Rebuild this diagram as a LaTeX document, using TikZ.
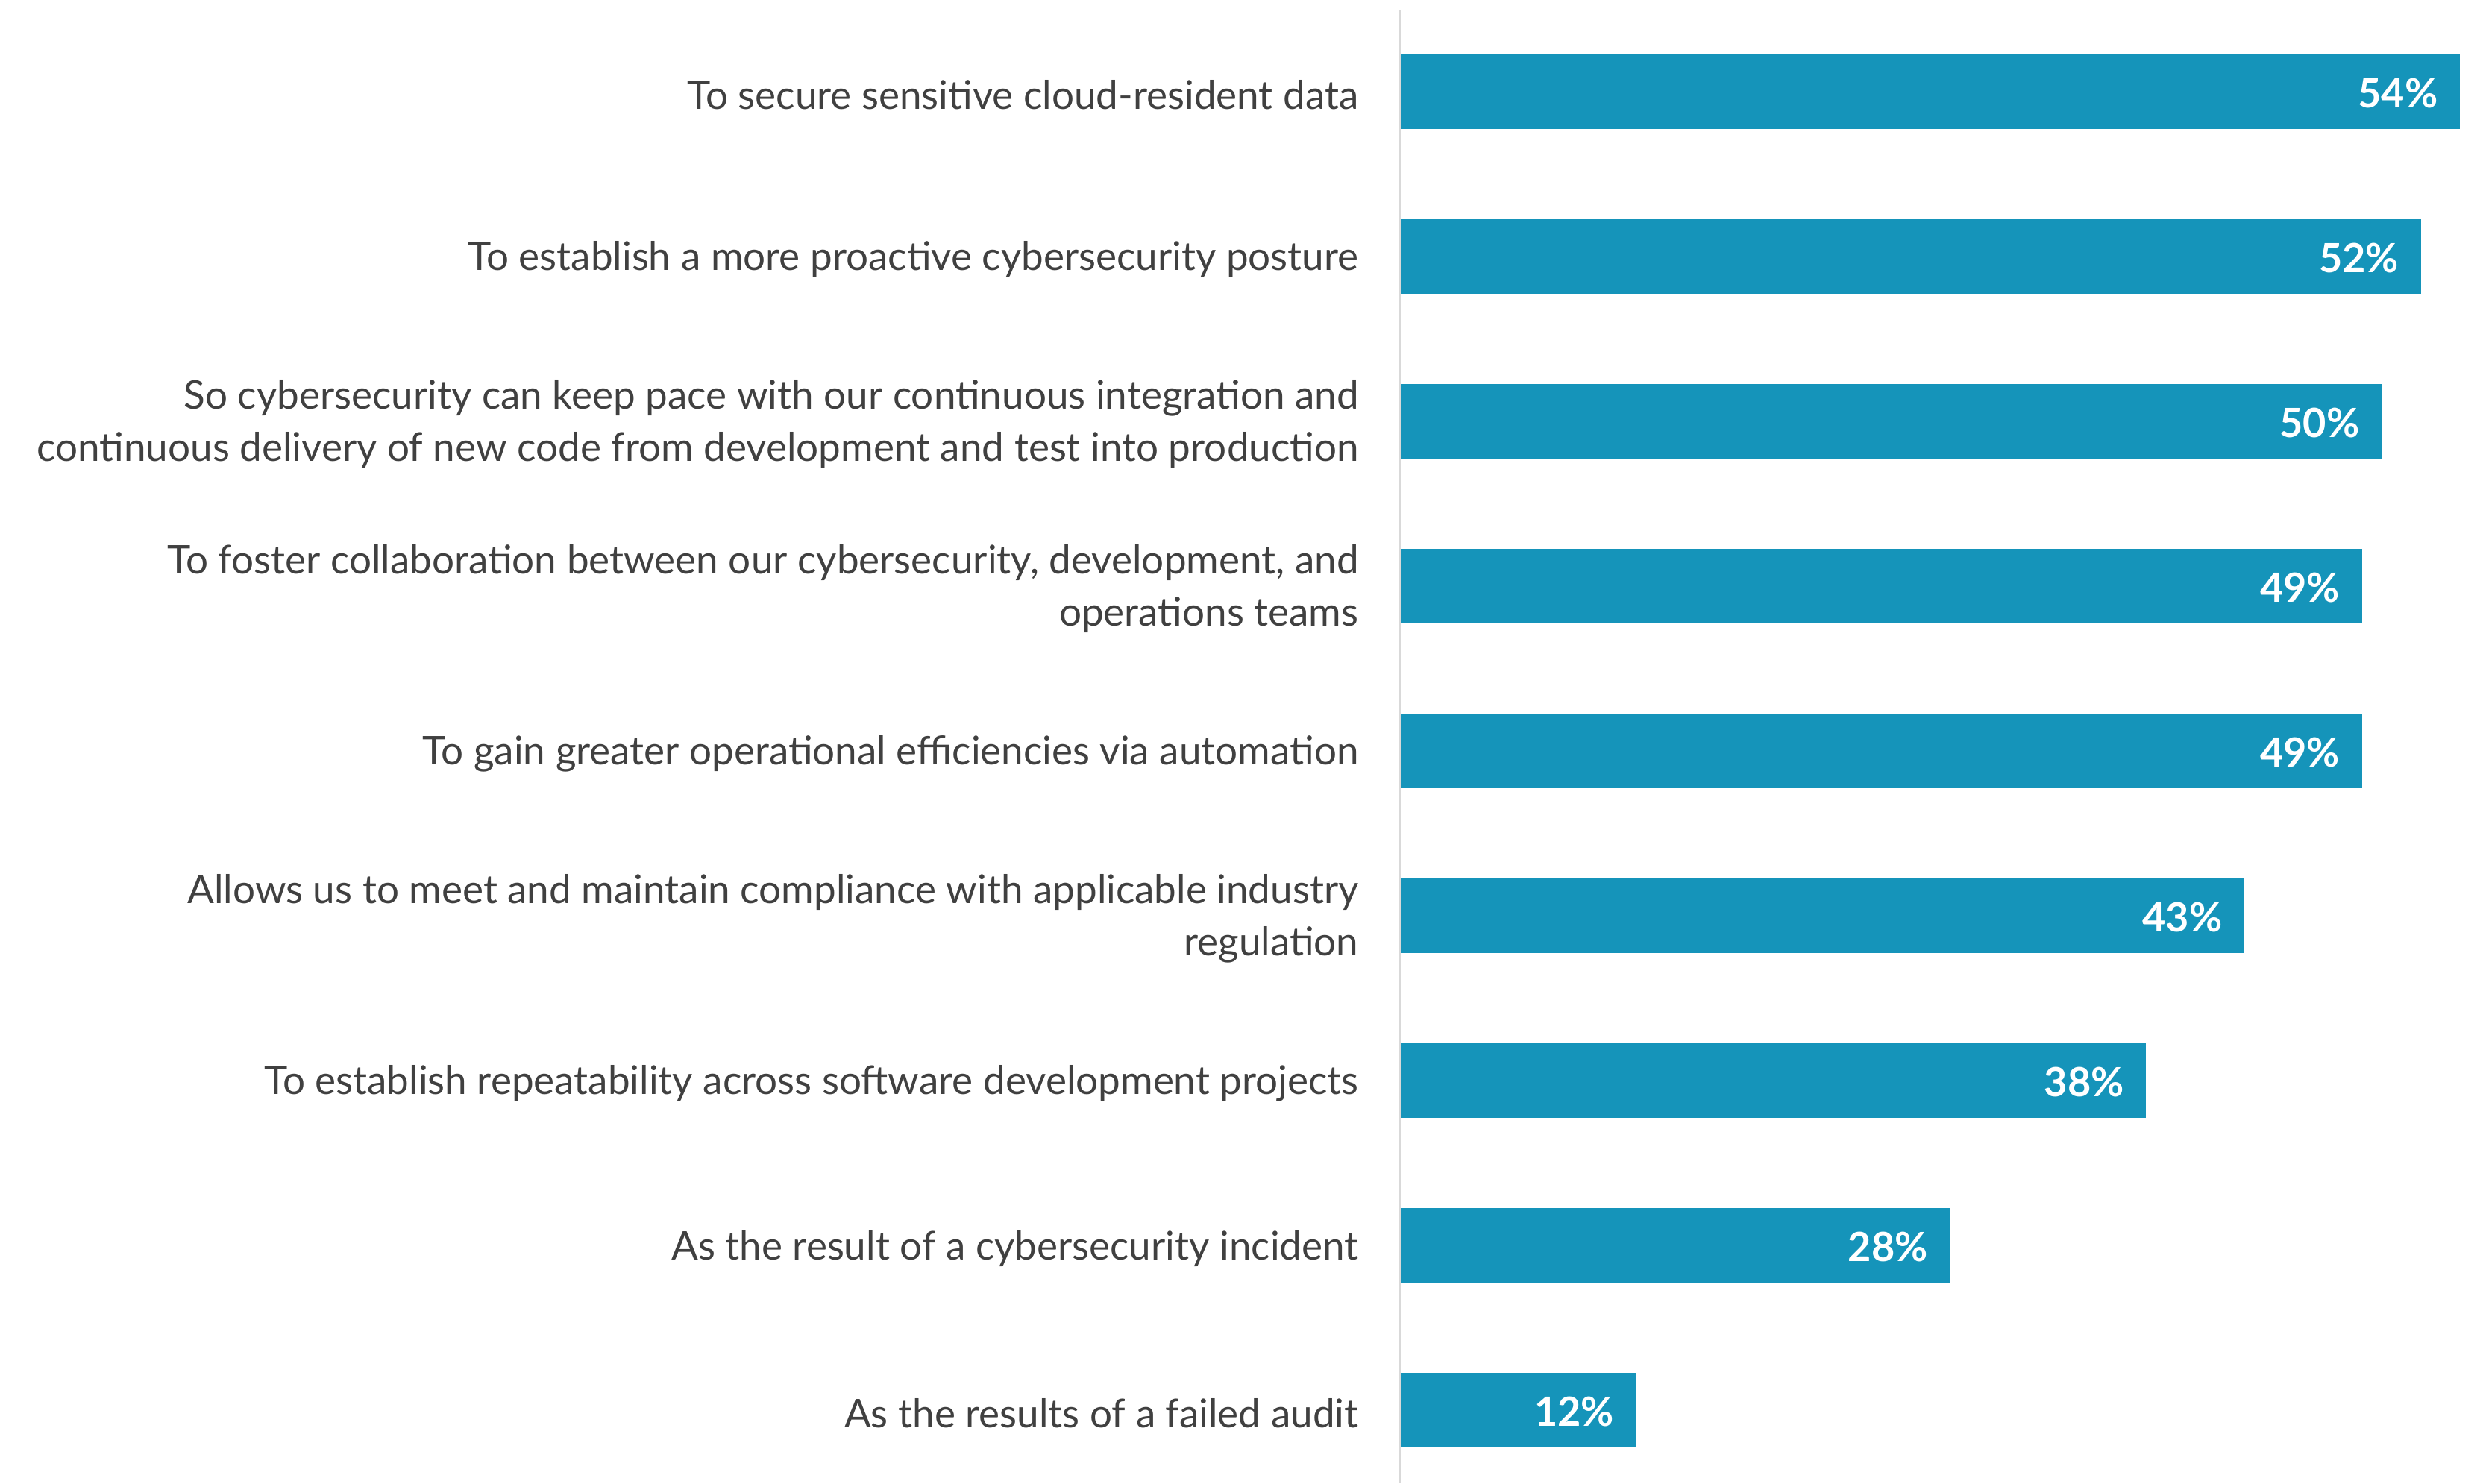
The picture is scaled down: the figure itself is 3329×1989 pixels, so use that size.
\documentclass[tikz,border=0pt]{standalone}
\usepackage{fontspec}
\setmainfont{Lato}
\definecolor{barblue}{HTML}{1594BA}
\definecolor{axisgray}{HTML}{D9D9D9}
\definecolor{labelgray}{HTML}{404040}
\begin{document}
\begin{tikzpicture}[x=0.3pt,y=-0.3pt,
  cat/.style={anchor=east,align=right,text=labelgray,inner sep=0pt,font=\fontsize{15.9}{21}\selectfont},
  val/.style={anchor=east,text=white,inner sep=0pt,font=\bfseries\fontsize{16.2}{19}\selectfont},
  barfill/.style={fill=barblue}]
\path[use as bounding box] (0,0) rectangle (3329,1989);
\draw[axisgray,line width=0.9pt] (1877,13) coordinate (axtop) -- (1877,1989) coordinate (axbot);
\foreach \i/\v/\t in {
 1/54/{To secure sensitive cloud-resident data},
 2/52/{To establish a more proactive cybersecurity posture},
 3/50/{So cybersecurity can keep pace with our continuous integration and\\continuous delivery of new code from development and test into production},
 4/49/{To foster collaboration between our cybersecurity, development, and\\operations teams},
 5/49/{To gain greater operational efficiencies via automation},
 6/43/{Allows us to meet and maintain compliance with applicable industry\\regulation},
 7/38/{To establish repeatability across software development projects},
 8/28/{As the result of a cybersecurity incident},
 9/12/{As the results of a failed audit}}{
  \pgfmathsetmacro{\yc}{123+(\i-1)*221}
  \pgfmathsetmacro{\xe}{1878+\v*26.3}
  \fill[barfill] (1878,\yc-50) rectangle (\xe,\yc+50);
  \node[cat] (l\i) at (1822,\yc+4) {\t};
  \node[val] (v\i) at (\xe-29,\yc+2) {\v\%};
}
\end{tikzpicture}
\end{document}
